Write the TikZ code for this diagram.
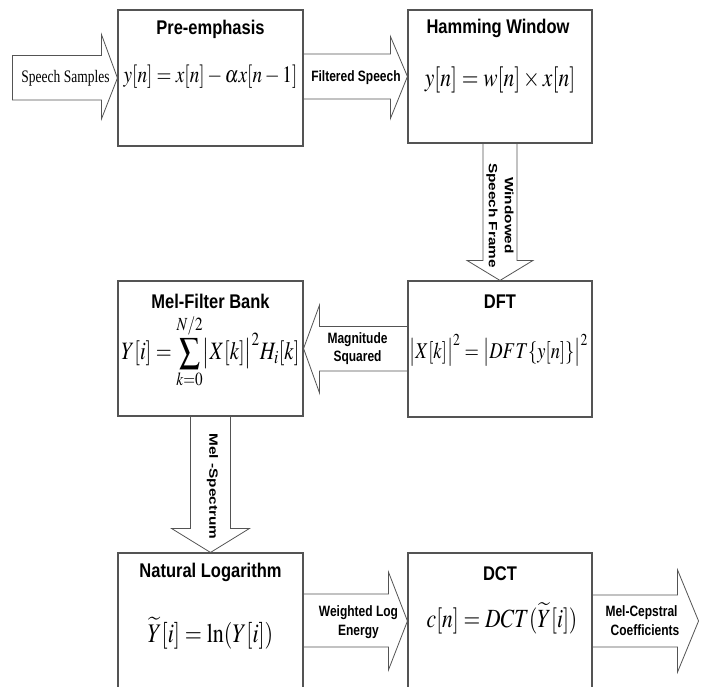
\documentclass[tikz,border=0pt]{standalone}
\usepackage{amsmath}
\usepackage{mathptmx}
\usepackage[no-math]{fontspec}
\setmainfont{Liberation Serif}
\setsansfont{Liberation Sans}
\usetikzlibrary{calc}
\definecolor{boxgray}{gray}{0.33}

\begin{document}
\begin{tikzpicture}[x=1pt,y=1pt,
  stage/.style={draw=boxgray, line width=1.1pt, inner sep=0pt},
  flow/.style={draw=boxgray, line width=0.8pt, line join=miter},
  title/.style={font=\sffamily\bfseries\fontsize{16.5}{19}\selectfont, yscale=1.2, transform shape, inner sep=0pt},
  eq/.style={yscale=1.22, transform shape, inner sep=0pt},
  tag/.style={font=\sffamily\bfseries\fontsize{12}{15}\selectfont, align=center, yscale=1.25, transform shape, inner sep=0pt},
  vtag/.style={font=\sffamily\bfseries\fontsize{12}{16}\selectfont, align=center, yscale=1.28, rotate=-90, transform shape, inner sep=0pt}]

\fill[white] (0,0) rectangle (702,-687);
\useasboundingbox (0,0) rectangle (702,-687);
\clip (0,0) rectangle (702,-687);

% processing stages
\node[stage, minimum width=185pt, minimum height=136pt] (pre) at (210.5,-78) {};
\node[stage, minimum width=184pt, minimum height=133pt] (ham) at (500,-76.5) {};
\node[stage, minimum width=184pt, minimum height=136pt] (dft) at (500,-349) {};
\node[stage, minimum width=185pt, minimum height=135pt] (mel) at (210.5,-348.5) {};
\node[stage, minimum width=185pt, minimum height=136pt] (nat) at (210.5,-621) {};
\node[stage, minimum width=184pt, minimum height=136pt] (dct) at (500,-621) {};

% stage titles
\node[title] (preT) at ($(pre.north)+(0,-20)$) {Pre-emphasis};
\node[title] (hamT) at ($(ham.north)+(-2,-19)$) {Hamming Window};
\node[title] (dftT) at ($(dft.north)+(0,-21)$) {DFT};
\node[title] (melT) at ($(mel.north)+(0,-21)$) {Mel-Filter Bank};
\node[title] (natT) at ($(nat.north)+(0,-20)$) {Natural Logarithm};
\node[title] (dctT) at ($(dct.north)+(0,-21)$) {DCT};

% stage equations
\node[eq, font=\fontsize{19.2}{22}\selectfont] (preE) at ($(pre.center)+(0,1)$)
  {$y[n]=x[n]-\alpha x[n-1]$};
\node[eq, font=\fontsize{21.5}{24}\selectfont] (hamE) at ($(ham.center)+(0,-3.5)$)
  {$y[n]=w[n]\times x[n]$};
\node[eq, font=\fontsize{18.5}{22}\selectfont] (dftE) at ($(dft.center)+(-1.5,-1)$)
  {$\bigl\lvert X[k]\bigr\rvert^{2}=\bigl\lvert DFT\{y[n]\}\bigr\rvert^{2}$};
\node[eq, font=\fontsize{20.5}{24}\selectfont] (melE) at ($(mel.center)+(0,-3)$)
  {$\displaystyle Y[i]=\sum_{k=0}^{N/2}\bigl\lvert X[k]\bigr\rvert^{2}H_{i}[k]$};
\node[eq, font=\fontsize{22}{25}\selectfont] (natE) at ($(nat.center)+(0,-12)$)
  {$\widetilde{Y}[i]=\ln(Y[i])$};
\node[eq, font=\fontsize{21.5}{25}\selectfont] (dctE) at ($(dct.center)+(2,3)$)
  {$c[n]=DCT(\widetilde{Y}[i])$};

% free ends of the input and output arrows
\coordinate (src) at ($(pre.west)+(-105,0)$);
\coordinate (mfcc) at ($(dct.east)+(106,0)$);

% input arrow
\draw[flow] (src) ++(0,22.5) -- ($(pre.west)+(-16,22.5)$) -- ($(pre.west)+(-16,43.5)$) -- (pre.west)
  -- ($(pre.west)+(-16,-41)$) -- ($(pre.west)+(-16,-22)$) -- ($(src)+(0,-22)$) -- cycle;
\node[font=\fontsize{13.5}{15}\selectfont, yscale=1.3, transform shape, inner sep=0pt] (srcT)
  at ($(pre.west)+(-52,0)$) {Speech Samples};

% pre-emphasis -> hamming window
\draw[flow] ($(pre.east|-ham.west)+(0,22.5)$) -- ($(ham.west)+(-17,22.5)$) -- ($(ham.west)+(-17,40)$) -- (ham.west)
  -- ($(ham.west)+(-17,-42)$) -- ($(ham.west)+(-17,-22.5)$) -- ($(pre.east|-ham.west)+(0,-22.5)$);
\node[tag] (fsT) at ($(ham.west)+(-51.5,-1)$) {Filtered Speech};

% hamming window -> DFT
\draw[flow] ($(ham.south)+(-17,0)$) -- ($(dft.north)+(-17,20)$) -- ($(dft.north)+(-33,20)$) -- (dft.north)
  -- ($(dft.north)+(33,20)$) -- ($(dft.north)+(17,20)$) -- ($(ham.south)+(17,0)$);
\node[vtag] (wsT) at ($(ham.south)+(0,-72)$) {Windowed\\Speech Frame};

% DFT -> mel filter bank
\draw[flow] ($(dft.west|-mel.east)+(0,22)$) -- ($(mel.east)+(16,22)$) -- ($(mel.east)+(16,43.5)$) -- (mel.east)
  -- ($(mel.east)+(16,-44.5)$) -- ($(mel.east)+(16,-22.5)$) -- ($(dft.west|-mel.east)+(0,-22.5)$);
\node[tag] (msT) at ($(mel.east)+(54,0)$) {Magnitude\\Squared};

% mel filter bank -> natural logarithm
\draw[flow] ($(mel.south)+(-20,0)$) -- ($(nat.north)+(-20,24)$) -- ($(nat.north)+(-39,24)$) -- (nat.north)
  -- ($(nat.north)+(39,24)$) -- ($(nat.north)+(20,24)$) -- ($(mel.south)+(20,0)$);
\node[vtag] (spT) at ($(mel.south)+(2,-70)$) {Mel -Spectrum};

% natural logarithm -> DCT
\draw[flow] ($(nat.east)+(0,27)$) -- ($(dct.west)+(-19,27)$) -- ($(dct.west)+(-19,49)$) -- (dct.west)
  -- ($(dct.west)+(-19,-49)$) -- ($(dct.west)+(-19,-26)$) -- ($(nat.east)+(0,-26)$);
\node[tag] (weT) at ($(dct.west)+(-49,-1)$) {Weighted Log\\Energy};

% output arrow
\draw[flow] ($(dct.east)+(0,26)$) -- ($(mfcc)+(-21,26)$) -- ($(mfcc)+(-21,51)$) -- (mfcc)
  -- ($(mfcc)+(-21,-51)$) -- ($(mfcc)+(-21,-26)$) -- ($(dct.east)+(0,-26)$);
\node[tag] (ccT) at ($(dct.east)+(49,0)$) {Mel-Cepstral\\\hspace*{7pt}Coefficients};

\end{tikzpicture}
\end{document}
